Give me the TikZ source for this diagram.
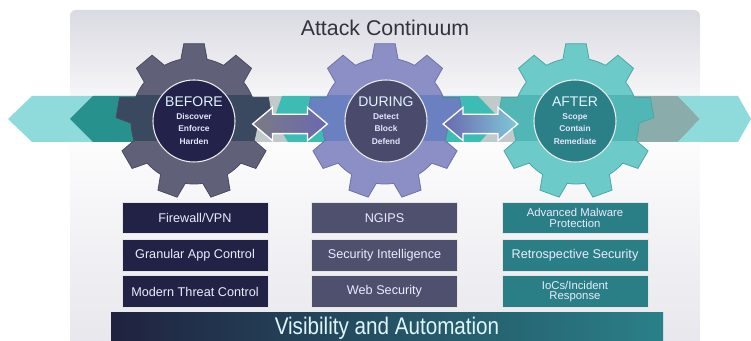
\documentclass[tikz,border=0pt]{standalone}
\usepackage{fontspec}
\setmainfont{Liberation Sans}
\usetikzlibrary{shapes.arrows,calc}

\definecolor{panelTop}{HTML}{DADAE2}
\definecolor{panelBot}{HTML}{E6E6EC}
\definecolor{tealL}{HTML}{8FDADA}
\definecolor{tealD}{HTML}{27918E}
\definecolor{tealM}{HTML}{3CBCB4}
\definecolor{bandGray}{HTML}{C0CACA}
\definecolor{grayR}{HTML}{8AACAA}
\definecolor{gearA}{HTML}{606078}
\definecolor{edgeA}{HTML}{4A4A60}
\definecolor{overA}{HTML}{3A4860}
\definecolor{hubA}{HTML}{22224A}
\definecolor{gearB}{HTML}{8B8FC6}
\definecolor{edgeB}{HTML}{6E72A8}
\definecolor{overB}{HTML}{6A80C0}
\definecolor{hubB}{HTML}{4A4A6C}
\definecolor{gearC}{HTML}{6CCBC8}
\definecolor{edgeC}{HTML}{4AA8A8}
\definecolor{overC}{HTML}{50B6B6}
\definecolor{hubC}{HTML}{2A8086}
\definecolor{boxA}{HTML}{222246}
\definecolor{boxB}{HTML}{4F4F6E}
\definecolor{boxC}{HTML}{2A7F86}
\definecolor{barL}{HTML}{20223F}
\definecolor{barR}{HTML}{2A8088}
\definecolor{arrL}{HTML}{7B7B84}
\definecolor{arrM}{HTML}{6A68B0}
\definecolor{arrR}{HTML}{80C8D8}
\definecolor{ink}{HTML}{333340}

\tikzset{
  box/.style={minimum width=109.5pt, minimum height=23.5pt, inner sep=1pt, draw=white!80!gray,
    line width=0.5pt, text=white!92!blue, align=center, font=\fontsize{9.5}{9}\selectfont},
  smallbox/.style={box, font=\fontsize{8.5}{8}\selectfont},
  hub/.style={circle, minimum size=61.5pt, inner sep=0pt, draw=white!85!gray, line width=0.8pt},
  phase/.style={text=white!88!cyan, font=\fontsize{10.5}{11}\selectfont},
  steps/.style={text=white!90!blue, align=center, font=\fontsize{6.3}{9.4}\selectfont\bfseries},
  dblarr/.style={double arrow, double arrow tip angle=80, double arrow head extend=5.25pt,
    inner xsep=0pt, inner ysep=6.75pt, minimum height=56pt, draw=white, line width=1pt},
}

\newcommand{\gear}[1]{\path[#1] (78:63) \foreach \a in {90,130,...,410} { -- (\a-12:63) -- (\a-7.5:78)
  -- (\a+7.5:78) -- (\a+12:63) arc[start angle=\a+12, end angle=\a+28, radius=63] } -- cycle;}

\newcommand{\gearat}[4]{%
\begin{scope}[shift={(#1)}]
\gear{fill=#2}
\begin{scope}
\gear{clip}
\fill[#3] (-80,-20) rectangle (80,26);
\end{scope}
\gear{draw=#4, line width=0.6pt}
\end{scope}}

\begin{document}
\begin{tikzpicture}[x=0.75pt, y=0.75pt]
\useasboundingbox (0,0) rectangle (751,341);

\shade[top color=white, bottom color=panelBot] (70,-10) rectangle (700,222);
\shade[top color=panelTop, bottom color=white, rounded corners=4.5pt] (70,218) rectangle (700,331);

\fill[tealL] (8,222) -- (32,245) -- (200,245) -- (200,199) -- (32,199) -- cycle;
\fill[tealD] (70,222) -- (93,245) -- (200,245) -- (200,199) -- (93,199) -- cycle;
\fill[bandGray] (190,199) rectangle (580,245);
\fill[tealM] (282,245) -- (330,245) -- (330,199) -- (288,199) -- (274,222) -- cycle;
\fill[tealM] (440,245) -- (478,245) -- (500,222) -- (480,199) -- (440,199) -- cycle;
\fill[grayR] (570,199) -- (570,245) -- (678,245) -- (700,222) -- (678,199) -- cycle;
\fill[tealL] (678,245) -- (738,245) -- (751,222) -- (738,199) -- (678,199) -- (700,222) -- cycle;

\gearat{194,220}{gearA}{overA}{edgeA}
\gearat{385,220}{gearB}{overB}{edgeB}
\gearat{576,220}{gearC}{overC}{edgeC}

\node[hub, fill=hubA] (before) at (194,220) {};
\node[phase] at ([yshift=14.25pt]before.center) {BEFORE};
\node[steps] at ([yshift=-6pt]before.center) {Discover\\Enforce\\Harden};

\node[hub, fill=hubB] (during) at (386,220) {};
\node[phase] at ([yshift=14.25pt]during.center) {DURING};
\node[steps] at ([yshift=-6pt]during.center) {Detect\\Block\\Defend};

\node[hub, fill=hubC] (after) at (575,220) {};
\node[phase] at ([yshift=14.25pt]after.center) {AFTER};
\node[steps] at ([yshift=-6pt]after.center) {Scope\\Contain\\Remediate};

\node[dblarr, left color=arrL, right color=arrM] (bd) at ($(before)!0.5!(during)+(0,-3)$) {};
\node[dblarr, left color=arrM, right color=arrR] (da) at ($(during)!0.5!(after)+(0,-3)$) {};

\node[text=ink, font=\fontsize{16}{18}\selectfont] (title) at (385,313) {Attack Continuum};

\node[box, fill=boxA] (fw) at (195,123) {Firewall/VPN};
\node[box, fill=boxA] (gac) at (195,85.5) {Granular App Control};
\node[box, fill=boxA] (mtc) at (195,49.5) {Modern Threat Control};

\node[box, fill=boxB] (ngips) at (384.5,123) {NGIPS};
\node[box, fill=boxB] (si) at (384.5,85.5) {Security Intelligence};
\node[box, fill=boxB] (ws) at (384.5,49.5) {Web Security};

\node[smallbox, fill=boxC] (amp) at (575,123) {Advanced Malware\\Protection};
\node[box, fill=boxC] (rs) at (575,85.5) {Retrospective Security};
\node[smallbox, fill=boxC] (ioc) at (575,49.5) {IoCs/Incident\\Response};

\node[left color=barL, right color=barR, minimum width=414pt, minimum height=22.5pt, inner sep=0pt,
  text=white!88!cyan, font=\fontsize{18}{18}\selectfont] (vis) at (387,13)
  {\raisebox{-2pt}{\scalebox{0.86}[1]{Visibility and Automation}}};
\end{tikzpicture}
\end{document}
